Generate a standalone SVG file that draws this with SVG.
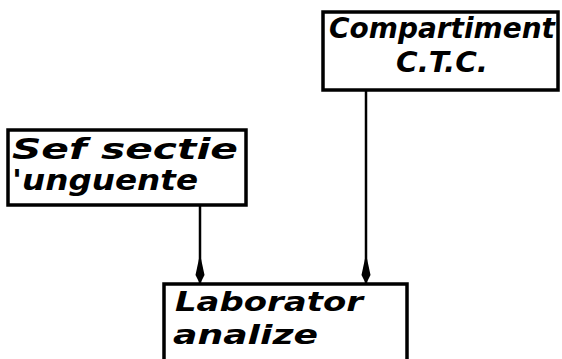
<svg xmlns="http://www.w3.org/2000/svg" width="562" height="359" viewBox="0 0 562 359">
<style>
.box{fill:#fff;stroke:#000;stroke-width:3.5}
.t{font-family:"DejaVu Sans",sans-serif;font-style:oblique;font-weight:bold;font-size:29px;fill:#000}
.s{font-size:26px}
.c{stroke:#000;stroke-width:2.5;fill:none}
.ah{fill:#000}
</style>
<rect width="562" height="359" fill="#fff"/>
<g id="connectors">
<line class="c" x1="200" y1="206" x2="200" y2="283"/>
<path class="ah" d="M200,254 L204.5,275 L200,284 L195.5,275 Z"/>
<line class="c" x1="366" y1="90" x2="366" y2="283"/>
<path class="ah" d="M366,254 L370.5,275 L366,284 L361.5,275 Z"/>
</g>
<g id="compartiment">
<rect class="box" x="323" y="12" width="235" height="78"/>
<text class="t" x="329" y="38" textLength="226" lengthAdjust="spacingAndGlyphs">Compartiment</text>
<text class="t" x="396" y="72" textLength="92" lengthAdjust="spacingAndGlyphs">C.T.C.</text>
</g>
<g id="sef">
<rect class="box" x="8" y="130" width="238" height="75"/>
<text class="t" x="12" y="159" textLength="226" lengthAdjust="spacingAndGlyphs">Sef sectie</text>
<text class="t" x="12" y="190" textLength="186" lengthAdjust="spacingAndGlyphs">'unguente</text>
</g>
<g id="laborator">
<rect class="box" x="164" y="284" width="243" height="80"/>
<text class="t s" x="175" y="311" textLength="188" lengthAdjust="spacingAndGlyphs">Laborator</text>
<text class="t s" x="173" y="344" textLength="145" lengthAdjust="spacingAndGlyphs">analize</text>
</g>
</svg>
